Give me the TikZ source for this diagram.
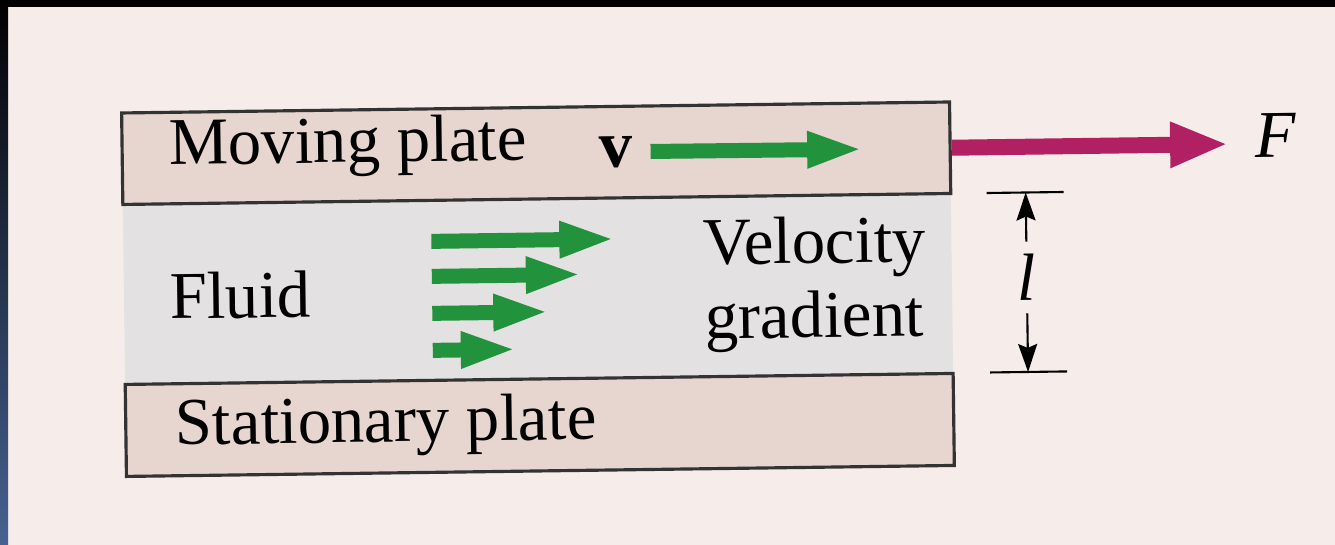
\documentclass[tikz,border=0pt]{standalone}
\usepackage{fontspec}
\setmainfont{Liberation Serif}
\usepackage{xcolor}
\usetikzlibrary{arrows.meta, positioning}

\definecolor{pagebg}{RGB}{246,236,233}
\definecolor{platefill}{RGB}{231,213,207}
\definecolor{fluidfill}{RGB}{227,225,225}
\definecolor{flowgreen}{RGB}{34,146,60}
\definecolor{forcered}{RGB}{176,32,98}
\definecolor{edgeblue}{RGB}{72,98,145}

\begin{document}
\begin{tikzpicture}[font=\fontsize{19}{21}\selectfont,
    plate/.style={draw=black!80, line width=0.9pt, fill=platefill, minimum width=8.28cm, minimum height=0.915cm, inner sep=0pt},
    txt/.style={inner sep=0pt},
    flowarrow/.style={line width=0.15cm, flowgreen, -{Triangle[length=0.56cm, width=0.33cm]}},
    forcearrow/.style={line width=0.16cm, forcered, -{Triangle[length=0.58cm, width=0.42cm]}},
    dimline/.style={line width=0.6pt, black},
    dimarrow/.style={line width=0.6pt, black, -{Stealth[length=2.8mm, width=1.9mm, inset=0.4mm]}}]
    \useasboundingbox (0,0) rectangle (13.35,5.45);
    \fill[pagebg] (0,0) rectangle (13.35,5.45);
    \fill[black] (0,5.38) rectangle (13.35,5.45);
    \shade[top color=black, bottom color=edgeblue] (0,0) rectangle (0.08,5.45);

    \begin{scope}[shift={(5.35,2.55)}, rotate=0.76, transform shape]
        \fill[fluidfill] (-4.11,-0.89) rectangle (4.17,0.91);
        \node[plate] (moving) at (0.03,1.3675) {};
        \node[plate, minimum height=0.92cm] (fixed) at (0.03,-1.35) {};

        \node[txt, anchor=base west] (movtxt) at (-3.65,1.30) {Moving plate};
        \node[txt] (vel) at (0.83,1.37) {\textbf{v}};
        \draw[flowarrow] ([xshift=0.17cm]vel.east) -- (3.30,1.365);
        \draw[forcearrow] (moving.east) -- (6.95,1.3675) coordinate (ftip);
        \node[txt, right=0.27cm of ftip, yshift=0.08cm] (force) {\textit{F}};

        \node[txt, anchor=base west] (fluidtxt) at (-3.66,-0.24) {Fluid};
        \foreach \y/\len in {0.50/1.84, 0.15/1.50, -0.22/1.17, -0.59/0.84}
            \draw[flowarrow] (-1.03,\y) -- ++(\len,0);
        \node[txt, anchor=base west] (veltxt) at (1.68,0.23) {Velocity};
        \node[txt, anchor=base west] (gradtxt) at (1.69,-0.51) {gradient};
        \node[txt, anchor=base west] (fixtxt) at (-3.62,-1.50) {Stationary plate};

        % gap between the plates
        \coordinate (gaptop) at (4.92,0.91);
        \coordinate (gapbot) at (4.92,-0.885);
        \draw[dimline] ([xshift=-0.39cm]gaptop) -- ([xshift=0.38cm]gaptop);
        \draw[dimline] ([xshift=-0.38cm]gapbot) -- ([xshift=0.39cm]gapbot);
        \node[txt, inner sep=0.12cm] (gap) at (4.92,0.06) {\textit{l}};
        \draw[dimarrow] (gap) -- (gaptop);
        \draw[dimarrow] (gap) -- (gapbot);
    \end{scope}
\end{tikzpicture}
\end{document}
